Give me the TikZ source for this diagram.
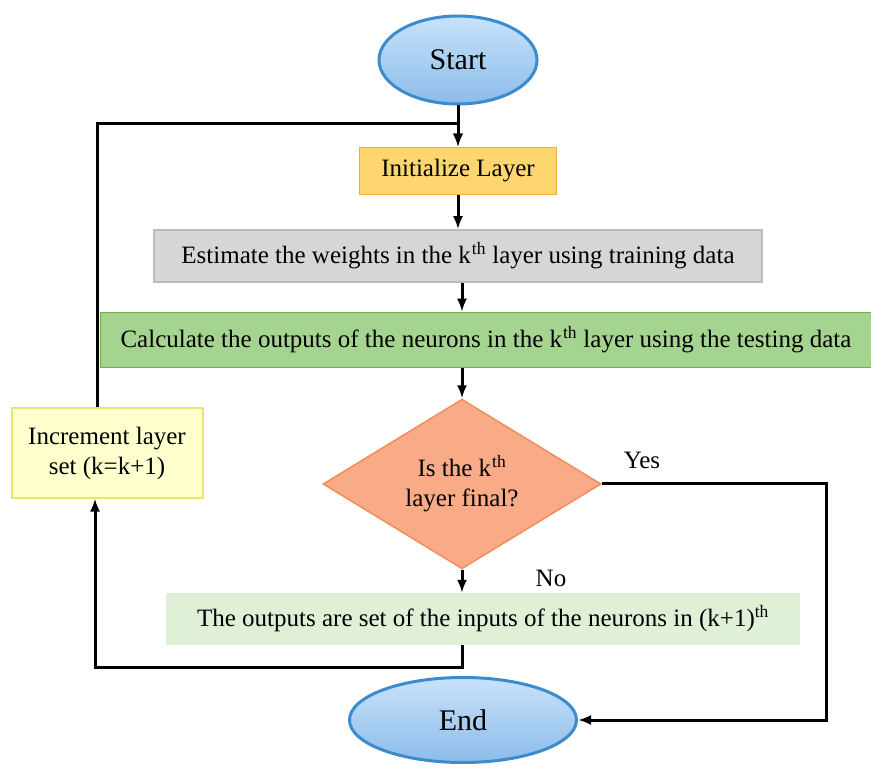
\documentclass[tikz,border=0pt]{standalone}
\usepackage{fontspec}
\setmainfont{Liberation Serif}
\usetikzlibrary{shapes.geometric,arrows.meta}
\definecolor{termline}{RGB}{60,140,205}
\definecolor{termtop}{RGB}{200,226,250}
\definecolor{termbot}{RGB}{140,188,234}
\definecolor{initfill}{RGB}{253,214,112}
\definecolor{initline}{RGB}{242,172,62}
\definecolor{estfill}{RGB}{214,214,214}
\definecolor{estline}{RGB}{188,188,188}
\definecolor{calcfill}{RGB}{165,212,145}
\definecolor{calcline}{RGB}{112,175,72}
\definecolor{decfill}{RGB}{249,170,135}
\definecolor{decline}{RGB}{242,140,90}
\definecolor{outsfill}{RGB}{224,240,215}
\definecolor{incfill}{RGB}{255,255,205}
\definecolor{incline}{RGB}{232,230,110}
\begin{document}
\begin{tikzpicture}[x=1pt,y=-1pt,
  font=\fontsize{25}{30}\selectfont,
  line/.style={line width=3pt},
  arr/.style={line,-{Latex[length=13pt,width=10pt]}},
  term/.style={ellipse,draw=termline,line width=3pt,top color=termtop,
    bottom color=termbot,inner sep=0pt,font=\fontsize{30}{34}\selectfont},
  box/.style={rectangle,inner sep=0pt,align=center}]
\useasboundingbox (0,0) rectangle (871,767);

% terminals
\node[term,minimum width=158pt,minimum height=88pt] (start) at (458,60) {Start};
\node[term,minimum width=227pt,minimum height=85pt] (end) at (463,720) {End};

% process boxes
\node[box,fill=initfill,draw=initline,line width=1.5pt,minimum width=197pt,minimum height=47pt] (init) at (458,171) {Initialize Layer};
\node[box,fill=estfill,draw=estline,line width=1.5pt,minimum width=608pt,minimum height=52pt] (est) at (458,256)
  {Estimate the weights in the k\kern1pt\textsuperscript{th} layer using training data};
\node[box,fill=calcfill,draw=calcline,line width=1.5pt,minimum width=771pt,minimum height=55pt] (calc) at (486,340)
  {Calculate the outputs of the neurons in the k\kern1pt\textsuperscript{th} layer using the testing data};
\node[diamond,fill=decfill,draw=decline,line width=1.5pt,inner sep=0pt,align=center,minimum width=278pt,minimum height=164pt] (dec) at (462,484)
  {Is the k\kern1pt\textsuperscript{th}\\layer final?};
\node[box,fill=outsfill,minimum width=634pt,minimum height=52pt] (outs) at (483,619)
  {The outputs are set of the inputs of the neurons in (k+1)\textsuperscript{th}};
\node[box,fill=incfill,draw=incline,line width=2pt,minimum width=191pt,minimum height=89pt] (inc) at (107,453)
  {Increment layer\\set (k=k+1)};

% labels
\node (yes) at (642,460) {Yes};
\node (no) at (551,578) {No};

\coordinate (looptop) at (458,124);
\coordinate (yescorner) at (826,484);

% connectors
\draw[arr] (start) -- (init);
\draw[arr] (init) -- (est);
\draw[arr] (est.south -| dec.north) -- (dec.north |- calc.north);
\draw[arr] (calc.south -| dec.north) -- (dec.north);
\draw[arr] (dec.south) -- (dec.south |- outs.north);
\draw[arr] (dec.east) -- (yescorner) |- (end.east);
\draw[arr] (outs.south -| dec.south) -- ++(0,22) -| ([xshift=-12pt]inc.south);
\draw[arr] ([xshift=-10pt]inc.north) |- (looptop) -- (init.north);
\end{tikzpicture}
\end{document}
